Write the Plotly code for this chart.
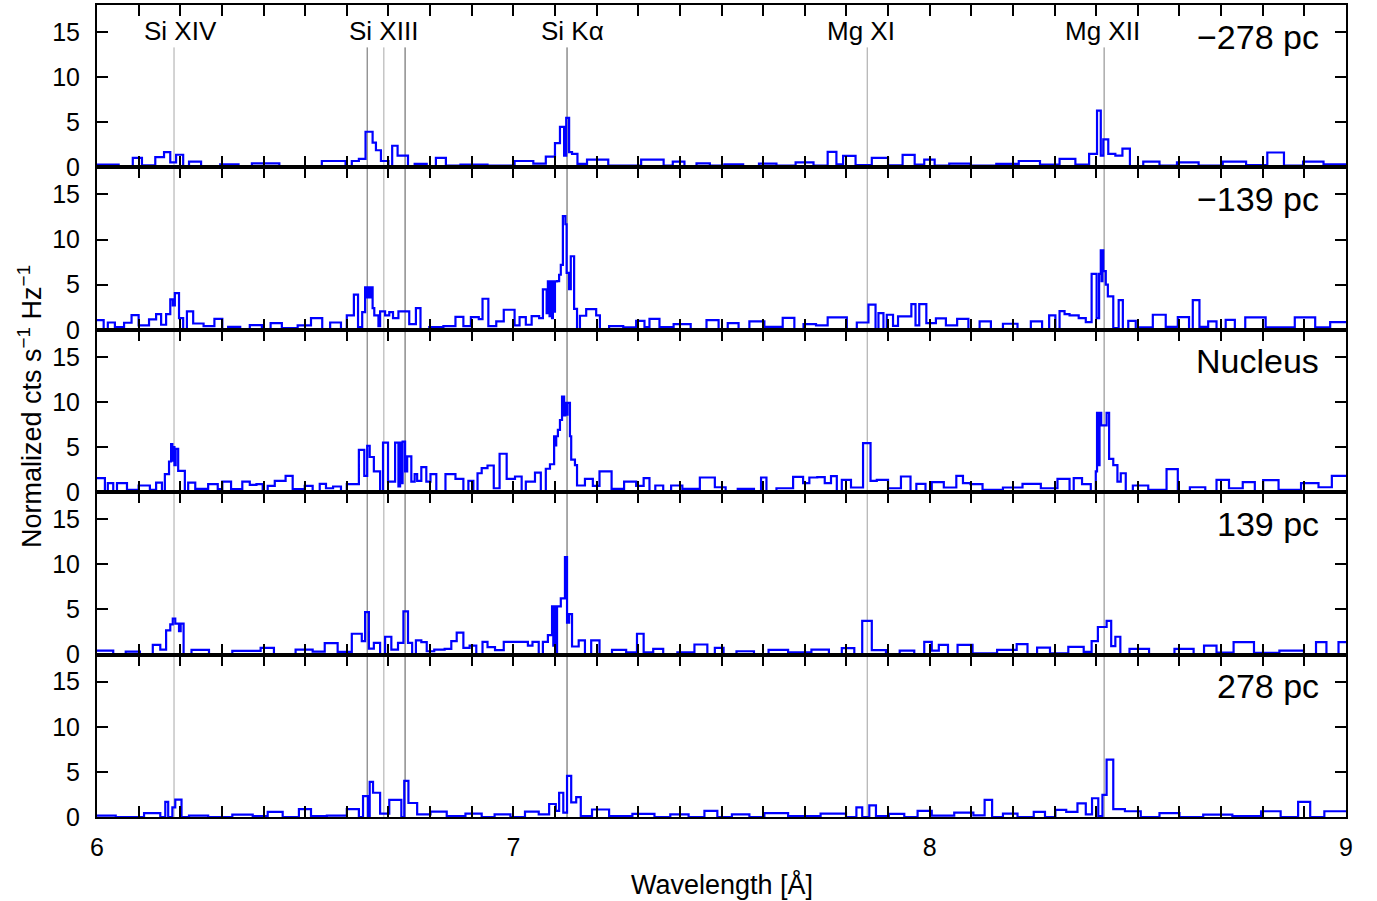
import plotly.graph_objects as go
from plotly.subplots import make_subplots

# ---- data: (bin left edge [Å], normalized counts) ; last bin ends at X_MAX ----
X_MIN, X_MAX = 6.0, 9.0

NEG278 = [(6.000,0.3),(6.052,0),(6.086,1.05),(6.108,0.22),(6.140,1.13),(6.161,1.7),(6.176,0.56),(6.190,1.4),(6.207,0),(6.221,0.64),(6.250,0),(6.296,0.34),(6.340,0),(6.372,0.45),(6.438,0),(6.540,0.71),(6.597,0),(6.612,0.71),(6.629,0.94),(6.645,3.95),(6.662,2.74),(6.670,1.9),(6.682,0.71),(6.700,0),(6.709,2.4),(6.722,1.3),(6.747,0),(6.763,0.38),(6.792,0),(6.814,1.05),(6.838,0.19),(6.873,0.3),(6.938,0.19),(7.003,0.71),(7.048,0.41),(7.078,1.2),(7.100,2.7),(7.112,4.5),(7.122,1.3),(7.127,5.5),(7.134,1.7),(7.141,1.5),(7.154,0.38),(7.177,0.86),(7.228,0.19),(7.307,0.86),(7.361,0.19),(7.383,0.64),(7.411,0),(7.440,0.45),(7.472,0.19),(7.507,0.34),(7.552,0),(7.590,0.41),(7.632,0.19),(7.678,0.56),(7.721,0.19),(7.755,1.73),(7.776,0.34),(7.792,1.28),(7.822,0.26),(7.861,1.05),(7.900,0.22),(7.935,1.39),(7.964,0.3),(7.987,0.86),(8.012,0.19),(8.047,0.41),(8.098,0.19),(8.160,0.38),(8.214,0.71),(8.265,0.3),(8.312,0.94),(8.350,0.3),(8.383,1.5),(8.402,6.3),(8.411,1.3),(8.417,3.1),(8.429,1.5),(8.446,1.3),(8.463,2.07),(8.481,0),(8.513,0.64),(8.552,0.19),(8.594,0.56),(8.646,0.19),(8.704,0.64),(8.760,0.26),(8.811,1.65),(8.851,0.19),(8.897,0.64),(8.946,0.34)]

NEG139 = [(6.000,1.07),(6.016,0),(6.026,0.81),(6.043,0.3),(6.065,0.78),(6.083,1.63),(6.100,0.48),(6.125,1.15),(6.142,1.74),(6.154,0.56),(6.166,1.74),(6.176,3.37),(6.182,2.7),(6.187,4.07),(6.197,1.3),(6.207,0),(6.216,2.04),(6.231,0.7),(6.256,0.4),(6.282,1.22),(6.301,0),(6.315,0.33),(6.344,0),(6.367,0.52),(6.396,0),(6.417,0.74),(6.444,0.19),(6.482,0.48),(6.514,1.3),(6.541,0),(6.560,0.81),(6.586,0),(6.600,1.6),(6.617,3.9),(6.627,0.3),(6.637,1.96),(6.644,4.7),(6.649,3.6),(6.652,4.7),(6.655,3.6),(6.658,4.7),(6.662,2.4),(6.666,1.6),(6.676,0.4),(6.680,2.04),(6.692,1.6),(6.702,1.96),(6.711,1.3),(6.724,2.04),(6.750,0.63),(6.766,2.4),(6.777,0),(6.798,0.3),(6.832,0.4),(6.861,1.44),(6.880,0.4),(6.898,1.4),(6.917,1.19),(6.926,3.44),(6.940,0.4),(6.959,0.93),(6.977,2.22),(7.003,0.48),(7.015,1.4),(7.030,0.56),(7.044,1.52),(7.062,1.3),(7.071,4.48),(7.080,1.85),(7.083,5.37),(7.087,1.5),(7.089,5.37),(7.093,1.3),(7.095,5.37),(7.098,2.0),(7.100,5.37),(7.105,5.4),(7.110,6.1),(7.114,7.2),(7.119,12.6),(7.125,11.7),(7.128,6.3),(7.134,4.5),(7.138,8.15),(7.146,2.33),(7.153,0),(7.160,1.56),(7.175,2.3),(7.199,1.59),(7.208,0),(7.230,0.4),(7.264,0.26),(7.295,1.0),(7.315,0.3),(7.327,1.22),(7.351,0.3),(7.385,0.63),(7.426,0),(7.464,1.07),(7.493,0),(7.515,0.74),(7.541,0),(7.567,0.93),(7.603,0.33),(7.647,1.33),(7.675,0),(7.697,0.63),(7.727,0.48),(7.755,1.37),(7.801,0),(7.825,0.81),(7.853,2.78),(7.870,0),(7.877,1.85),(7.889,0),(7.897,1.67),(7.912,0.44),(7.924,1.48),(7.956,2.85),(7.966,0.48),(7.975,2.85),(7.992,0.74),(8.015,1.26),(8.039,0.48),(8.066,1.22),(8.093,0),(8.120,0.93),(8.147,0),(8.176,0.67),(8.211,0),(8.243,0.93),(8.270,0),(8.287,1.59),(8.302,0),(8.312,2.07),(8.324,1.74),(8.336,1.6),(8.358,1.3),(8.375,0.85),(8.389,6.2),(8.401,1.3),(8.407,6.2),(8.411,8.8),(8.413,5.4),(8.415,8.8),(8.417,6.5),(8.423,5.0),(8.428,3.7),(8.441,0.19),(8.454,3.3),(8.464,0),(8.477,1.0),(8.495,0),(8.505,0.26),(8.536,1.67),(8.567,0.33),(8.596,1.4),(8.623,0),(8.632,3.3),(8.648,0.33),(8.669,0.93),(8.689,0),(8.711,1.1),(8.733,0),(8.758,1.37),(8.807,0.26),(8.877,1.37),(8.926,0.26),(8.962,0.85)]

NUCLEUS = [(6.000,1.55),(6.019,0),(6.026,1.0),(6.039,0),(6.048,1.0),(6.072,0.26),(6.100,0.74),(6.127,0.26),(6.142,1.07),(6.156,0),(6.163,2.0),(6.173,3.4),(6.178,5.33),(6.181,3.5),(6.183,5.0),(6.186,3.0),(6.189,4.8),(6.195,2.37),(6.211,0),(6.219,1.07),(6.236,0.37),(6.267,0.89),(6.290,0.33),(6.301,1.18),(6.322,0.33),(6.349,1.18),(6.367,0.81),(6.383,0.89),(6.398,0),(6.410,0.7),(6.427,1.26),(6.453,1.8),(6.470,0.33),(6.499,0.7),(6.518,0),(6.535,0.93),(6.550,0.44),(6.567,0.63),(6.586,0),(6.600,0.89),(6.629,4.7),(6.642,1.8),(6.649,5.15),(6.655,3.9),(6.665,2.3),(6.680,0),(6.687,5.5),(6.699,1.18),(6.716,5.5),(6.724,0.63),(6.728,5.5),(6.731,1.0),(6.734,5.6),(6.740,2.3),(6.745,3.96),(6.755,1.18),(6.763,2.0),(6.769,1.26),(6.779,2.78),(6.791,1.18),(6.801,2.0),(6.815,0),(6.837,2.0),(6.861,1.48),(6.880,0),(6.892,1.26),(6.904,0),(6.914,2.1),(6.924,2.67),(6.938,2.96),(6.953,0.44),(6.967,4.26),(6.984,1.48),(7.004,1.74),(7.020,0),(7.030,1.18),(7.052,2.18),(7.066,0),(7.078,2.6),(7.088,3.1),(7.098,6.2),(7.100,5.2),(7.103,6.2),(7.107,6.9),(7.112,8.0),(7.117,10.6),(7.122,8.5),(7.125,9.9),(7.127,8.6),(7.130,9.9),(7.136,6.2),(7.139,3.6),(7.148,3.0),(7.153,0.74),(7.172,1.48),(7.191,0.7),(7.207,2.3),(7.236,0.37),(7.266,1.18),(7.295,0.7),(7.313,1.55),(7.327,0),(7.341,0.74),(7.360,0),(7.379,0.74),(7.406,0.37),(7.448,1.63),(7.484,0.55),(7.510,0),(7.539,0.37),(7.578,0),(7.595,1.63),(7.608,0),(7.632,0.44),(7.672,1.7),(7.696,1.0),(7.711,1.63),(7.730,1.67),(7.748,1.0),(7.763,1.78),(7.777,0),(7.789,1.37),(7.811,0.52),(7.840,5.44),(7.858,1.26),(7.873,1.37),(7.900,0.44),(7.931,1.74),(7.954,0),(7.968,0.93),(7.990,0),(8.005,1.11),(8.034,0.52),(8.064,1.8),(8.080,1.0),(8.098,0.89),(8.127,0.26),(8.176,0.52),(8.223,0.93),(8.267,0.44),(8.307,1.48),(8.336,0),(8.346,1.55),(8.366,0.89),(8.387,0),(8.399,2.3),(8.402,8.8),(8.405,3.0),(8.408,8.8),(8.412,7.4),(8.425,8.8),(8.431,3.7),(8.441,3.0),(8.451,1.18),(8.459,2.1),(8.471,0),(8.488,0.74),(8.525,0.26),(8.569,2.55),(8.596,0),(8.625,0.55),(8.662,0),(8.689,1.37),(8.719,0.44),(8.752,1.11),(8.781,0),(8.801,1.33),(8.838,0.26),(8.892,1.0),(8.934,0.55),(8.966,1.8)]

POS139 = [(6.000,0.45),(6.039,0),(6.069,0.34),(6.103,0),(6.134,1.08),(6.152,0.56),(6.166,2.69),(6.176,3.36),(6.182,4.0),(6.188,3.43),(6.197,2.6),(6.201,3.43),(6.208,0),(6.227,0.52),(6.269,0),(6.325,0.41),(6.393,0.75),(6.425,0),(6.477,0.56),(6.518,0.34),(6.547,1.27),(6.578,0.3),(6.612,2.31),(6.636,1.49),(6.644,4.7),(6.653,0.67),(6.665,1.3),(6.680,0),(6.692,1.98),(6.707,0.56),(6.723,1.3),(6.736,4.78),(6.747,1.3),(6.757,0),(6.766,1.57),(6.779,1.38),(6.792,0.37),(6.810,0.56),(6.835,0.63),(6.851,1.49),(6.864,2.43),(6.880,0.75),(6.895,1.0),(6.911,0),(6.926,1.42),(6.938,0.82),(6.956,0.49),(6.977,1.42),(7.035,1.0),(7.046,1.42),(7.061,0),(7.071,1.42),(7.083,2.16),(7.093,5.34),(7.096,1.0),(7.098,5.34),(7.102,0),(7.105,5.34),(7.114,6.23),(7.124,10.8),(7.129,3.54),(7.134,4.48),(7.141,0.9),(7.157,1.57),(7.172,0),(7.187,1.57),(7.207,0),(7.237,0.52),(7.271,0.26),(7.297,2.31),(7.313,0.26),(7.336,0.63),(7.360,0),(7.394,0.26),(7.435,1.12),(7.466,0),(7.484,0.75),(7.505,0),(7.536,0.37),(7.578,0),(7.613,0.52),(7.660,0.26),(7.716,0.56),(7.758,0),(7.789,0.71),(7.819,0),(7.838,3.73),(7.861,0.49),(7.895,0),(7.928,0.45),(7.963,0),(7.987,1.42),(8.005,0.45),(8.022,1.08),(8.044,0),(8.067,1.08),(8.103,0.15),(8.162,0.52),(8.209,1.16),(8.235,0),(8.258,0.78),(8.289,0.15),(8.333,0.86),(8.370,0.3),(8.389,1.49),(8.404,3.06),(8.425,3.73),(8.436,0.93),(8.446,1.98),(8.458,0),(8.480,0.63),(8.527,0),(8.588,0.63),(8.634,0),(8.659,1.0),(8.689,0.22),(8.730,1.38),(8.779,0.19),(8.840,0.45),(8.899,0),(8.928,1.38),(8.953,0),(8.982,1.38)]

POS278 = [(6.000,0.15),(6.045,0),(6.113,0.42),(6.152,0),(6.164,1.67),(6.171,0),(6.181,1.06),(6.188,1.93),(6.203,0),(6.221,0.15),(6.267,0),(6.325,0.27),(6.374,0.11),(6.410,0.57),(6.446,0),(6.485,0.87),(6.514,0.11),(6.552,0.15),(6.600,0.87),(6.629,0),(6.639,2.31),(6.651,0),(6.655,3.9),(6.663,2.69),(6.680,0.38),(6.702,1.9),(6.731,0),(6.738,4.0),(6.748,1.55),(6.769,0.3),(6.801,0.6),(6.840,0.11),(6.885,0.38),(6.924,0),(6.955,0.3),(6.993,0),(7.028,0.6),(7.061,0.3),(7.086,1.44),(7.102,0.68),(7.110,2.69),(7.120,0.49),(7.129,4.55),(7.139,1.63),(7.151,2.2),(7.162,0.11),(7.189,0.83),(7.230,0.11),(7.286,0.34),(7.339,0),(7.377,0.3),(7.421,0),(7.459,0.68),(7.490,0),(7.525,0.3),(7.567,0),(7.603,0.42),(7.660,0.11),(7.738,0.38),(7.799,0),(7.824,1.06),(7.838,0),(7.855,1.29),(7.871,0.11),(7.902,0.34),(7.939,0),(7.971,0.68),(8.005,0.15),(8.059,0.49),(8.105,0.19),(8.132,1.9),(8.150,0),(8.176,0.38),(8.211,0),(8.250,0.57),(8.277,0),(8.302,0.8),(8.328,0.57),(8.355,1.52),(8.375,0.3),(8.390,2.08),(8.405,0.11),(8.415,2.46),(8.425,6.36),(8.441,0.87),(8.469,0.64),(8.507,0),(8.552,0.42),(8.600,0),(8.657,0.27),(8.727,0.11),(8.796,0.64),(8.843,0),(8.885,1.67),(8.914,0),(8.948,0.64)]

PANELS = [NEG278, NEG139, NUCLEUS, POS139, POS278]
PANEL_LABELS = ["\u2212278 pc", "\u2212139 pc", "Nucleus", "139 pc", "278 pc"]

LINE_NAMES = ["Si XIV", "Si XIII", "Si K\u03b1", "Mg XI", "Mg XII"]
LINE_LABEL_X = [6.201, 6.689, 7.143, 7.835, 8.414]
LINE_POS = [6.185, 6.649, 6.689, 6.740, 7.129, 7.850, 8.419]
LINE_COLORS = ["#a8a8a8", "#666666", "#a8a8a8", "#555555", "#555555", "#a0a0a0", "#808080"]

Y_MAX = 18
Y_TICKS = [0, 5, 10, 15]
LINE_TOP_VALUE = 13.3  # top of marker lines in the first panel

FONT = "Liberation Sans, Arial, Helvetica, sans-serif"

fig = make_subplots(rows=5, cols=1, shared_xaxes=True, vertical_spacing=0)

for i, data in enumerate(PANELS, start=1):
    xs = [e for e, _ in data] + [X_MAX]
    ys = [v for _, v in data]
    ys = ys + [ys[-1]]
    fig.add_trace(go.Scatter(x=xs, y=ys, mode="lines",
                             line=dict(color="#0000ff", width=2.2, shape="hv"),
                             showlegend=False, hoverinfo="skip"), row=i, col=1)

xt = [round(X_MIN + 0.1 * k, 1) for k in range(31)]
xtt = [str(int(v)) if abs(v - round(v)) < 1e-9 else " " for v in xt]

for i in range(1, 6):
    fig.update_xaxes(row=i, col=1, range=[X_MIN, X_MAX], tickvals=xt, ticktext=xtt,
                     ticks="inside", ticklen=11, tickwidth=2, tickcolor="black",
                     showline=True, linecolor="black", linewidth=2, mirror="ticks",
                     showgrid=False, zeroline=False, showticklabels=(i == 5),
                     tickfont=dict(family=FONT, size=25, color="black"),
                     ticklabelstandoff=7)
    fig.update_yaxes(row=i, col=1, range=[0, Y_MAX], tickvals=Y_TICKS,
                     ticks="inside", ticklen=11, tickwidth=2, tickcolor="black",
                     showline=True, linecolor="black", linewidth=2, mirror="ticks",
                     showgrid=False, zeroline=False,
                     tickfont=dict(family=FONT, size=25, color="black"),
                     ticklabelstandoff=10)

# marker lines
top_dom = fig.layout.yaxis.domain
y_top = top_dom[0] + (top_dom[1] - top_dom[0]) * LINE_TOP_VALUE / Y_MAX
for xv, col in zip(LINE_POS, LINE_COLORS):
    fig.add_shape(type="line", xref="x", yref="paper", x0=xv, x1=xv, y0=0, y1=y_top,
                  line=dict(color=col, width=1), layer="below")

for name, xv in zip(LINE_NAMES, LINE_LABEL_X):
    fig.add_annotation(x=xv, y=15.1, xref="x", yref="y", text=name, showarrow=False,
                       xanchor="center", yanchor="middle",
                       font=dict(family=FONT, size=26, color="black"))

for i, lab in enumerate(PANEL_LABELS, start=1):
    yref = "y" if i == 1 else f"y{i}"
    fig.add_annotation(x=8.94, y=14.5, xref="x", yref=yref, text=lab, showarrow=False,
                       xanchor="right", yanchor="middle",
                       font=dict(family=FONT, size=34, color="black"))

fig.add_annotation(x=-0.0536, y=0.505, xref="paper", yref="paper",
                   text="Normalized cts s<sup>\u22121</sup> Hz<sup>\u22121</sup>",
                   textangle=-90, showarrow=False, xanchor="center", yanchor="middle",
                   font=dict(family=FONT, size=27, color="black"))
fig.add_annotation(x=0.5, y=-0.0835, xref="paper", yref="paper",
                   text="Wavelength [\u00c5]", showarrow=False,
                   xanchor="center", yanchor="middle",
                   font=dict(family=FONT, size=27, color="black"))

fig.update_layout(width=1377, height=901,
                  margin=dict(l=97, r=31, t=3, b=84),
                  paper_bgcolor="white", plot_bgcolor="white",
                  font=dict(family=FONT, color="black"))

fig.write_html("out.html")
